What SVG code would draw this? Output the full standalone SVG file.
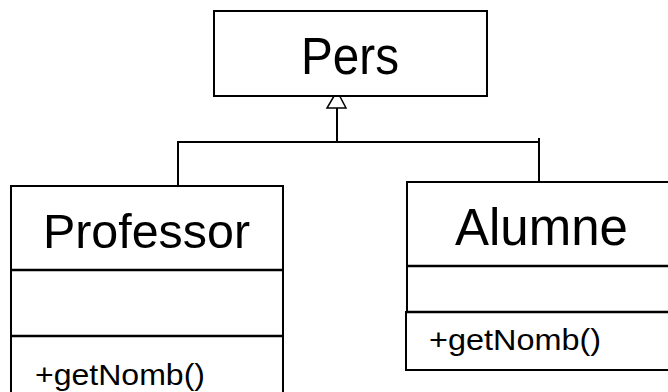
<svg xmlns="http://www.w3.org/2000/svg" width="668" height="392" viewBox="0 0 668 392">
<style>
.box{fill:#fff;stroke:#000;stroke-width:2}
.div{stroke:#000;stroke-width:2.5}
.conn{fill:none;stroke:#000;stroke-width:2}
.t{font-family:"Liberation Sans",Arial,sans-serif;fill:#000}
</style>
<rect width="668" height="392" fill="#fff"/>
<g id="connectors">
<polyline class="conn" points="178,186 178,142 539,142"/>
<line class="conn" x1="539" y1="138" x2="539" y2="182"/>
<line class="conn" x1="337" y1="142" x2="337" y2="108"/>
<polygon points="337,91 327,108 346,108" fill="#fff" stroke="#000" stroke-width="1.5"/>
</g>
<g id="pers">
<rect class="box" x="214" y="11" width="273" height="85"/>
<text class="t" x="350" y="74" font-size="51" text-anchor="middle" textLength="98" lengthAdjust="spacingAndGlyphs">Pers</text>
</g>
<g id="professor">
<rect class="box" x="11" y="186" width="272" height="220"/>
<line class="div" x1="11" y1="270" x2="283" y2="270"/>
<line class="div" x1="11" y1="336" x2="283" y2="336"/>
<text class="t" x="43" y="248" font-size="48" textLength="207" lengthAdjust="spacingAndGlyphs">Professor</text>
<text class="t" x="35" y="385" font-size="30" textLength="170" lengthAdjust="spacingAndGlyphs">+getNomb()</text>
</g>
<g id="alumne">
<rect class="box" x="407" y="182" width="280" height="130"/>
<line class="div" x1="407" y1="266" x2="680" y2="266"/>
<rect class="box" x="406" y="312" width="280" height="58"/>
<line class="div" x1="406" y1="312" x2="680" y2="312"/>
<text class="t" x="455" y="245" font-size="51" textLength="173" lengthAdjust="spacingAndGlyphs">Alumne</text>
<text class="t" x="429" y="350" font-size="29" textLength="172" lengthAdjust="spacingAndGlyphs">+getNomb()</text>
</g>
</svg>
